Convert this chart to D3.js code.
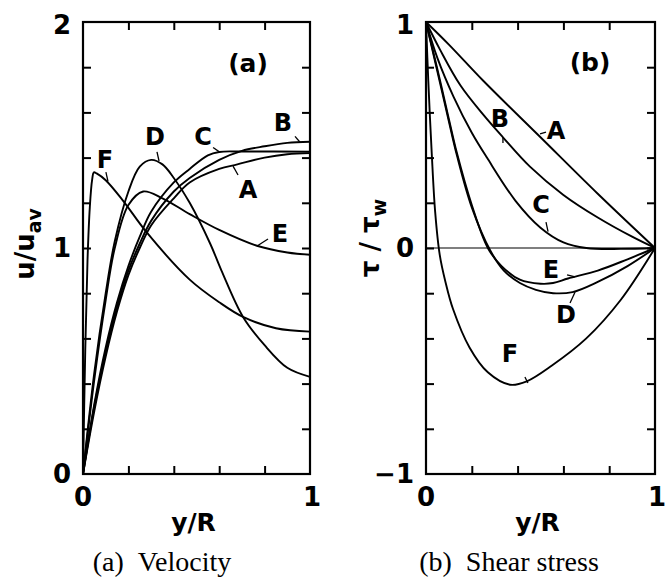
<!DOCTYPE html>
<html>
<head>
<meta charset="utf-8">
<script src="https://cdn.jsdelivr.net/npm/d3@7"></script>
<style>
  html, body { margin: 0; padding: 0; background: #fff; }
  svg { display: block; }
  .lbl { font-family: "DejaVu Sans", sans-serif; font-weight: bold; fill: #000; }
  .cap { font-family: "Liberation Serif", "Times New Roman", serif; fill: #000; }
</style>
</head>
<body>
<svg id="fig" width="666" height="583"></svg>
<script>
// Case labels shared by both panels
const cases = ["A", "B", "C", "D", "E", "F"];

// (a) velocity profiles u/u_av against y/R, as [y/R, u/u_av]
const velA = [[0,0],[0.05,0.28],[0.1,0.52],[0.15,0.72],[0.2,0.88],[0.25,1.0],[0.3,1.1],[0.4,1.22],[0.47,1.29],[0.6,1.35],[0.68,1.37],[0.8,1.40],[0.9,1.415],[1,1.42]];
const velB = [[0,0],[0.05,0.3],[0.1,0.54],[0.15,0.74],[0.2,0.9],[0.25,1.02],[0.3,1.12],[0.4,1.25],[0.47,1.31],[0.6,1.39],[0.7,1.43],[0.8,1.45],[0.9,1.465],[1,1.47]];
const velC = [[0,0],[0.05,0.31],[0.1,0.56],[0.15,0.76],[0.2,0.92],[0.25,1.05],[0.3,1.16],[0.4,1.29],[0.47,1.35],[0.55,1.41],[0.6,1.425],[0.7,1.427],[1,1.426]];
const velD = [[0,0],[0.05,0.45],[0.1,0.8],[0.14,1.03],[0.2,1.25],[0.25,1.36],[0.3,1.39],[0.35,1.37],[0.4,1.31],[0.47,1.2],[0.56,1.02],[0.61,0.9],[0.705,0.695],[0.8,0.57],[0.9,0.47],[1,0.43]];
const velE = [[0,0],[0.05,0.42],[0.1,0.77],[0.14,1.0],[0.2,1.19],[0.265,1.25],[0.35,1.22],[0.47,1.15],[0.6,1.08],[0.766,1.01],[0.9,0.98],[1,0.97]];
const velF = [[0,0],[0.01,0.55],[0.02,0.95],[0.03,1.18],[0.04,1.3],[0.048,1.335],[0.06,1.33],[0.1,1.3],[0.176,1.21],[0.28,1.07],[0.47,0.86],[0.6,0.76],[0.705,0.695],[0.85,0.645],[1,0.63]];

// (b) shear stress profiles tau/tau_w against y/R
const shrA = [[0,1],[0.1,0.9],[0.25,0.74],[0.5,0.49],[0.75,0.24],[1,0]];
const shrB = [[0,1],[0.06,0.88],[0.15,0.72],[0.25,0.59],[0.336,0.49],[0.454,0.36],[0.6,0.235],[0.75,0.135],[0.9,0.05],[1,0]];
const shrC = [[0,1],[0.05,0.84],[0.12,0.67],[0.2,0.51],[0.266,0.40],[0.39,0.21],[0.5,0.09],[0.6,0.025],[0.7,0.0],[0.85,-0.004],[1,0]];
const shrD = [[0,1],[0.05,0.78],[0.1,0.56],[0.135,0.41],[0.2,0.18],[0.28,-0.01],[0.34,-0.1],[0.41,-0.155],[0.48,-0.185],[0.555,-0.2],[0.64,-0.195],[0.75,-0.15],[0.88,-0.08],[1,0]];
const shrE = [[0,1],[0.05,0.79],[0.1,0.57],[0.135,0.42],[0.2,0.19],[0.27,0.0],[0.33,-0.08],[0.41,-0.14],[0.5,-0.158],[0.555,-0.155],[0.62,-0.135],[0.75,-0.1],[0.88,-0.05],[1,0]];
const shrF = [[0,1],[0.01,0.74],[0.025,0.42],[0.04,0.16],[0.06,-0.03],[0.085,-0.15],[0.118,-0.27],[0.19,-0.44],[0.27,-0.55],[0.367,-0.605],[0.44,-0.59],[0.55,-0.52],[0.7,-0.4],[0.85,-0.23],[1,0]];

// Tick values
const xTickVals = [0, 0.2, 0.4, 0.6, 0.8, 1];
const xTickLabels = ["0", "1"];
const velTickVals = d3.range(0, 2.0001, 0.2);
const velTickLabels = ["0", "1", "2"];
const shrTickVals = d3.range(-1, 1.0001, 0.2);
const shrTickLabels = ["\u22121", "0", "1"];

// Curve label anchors [y/R, value] and leader segments, per case
const velLabelPos = {F:[0.097,1.39], D:[0.317,1.49], C:[0.529,1.49], B:[0.881,1.553], A:[0.727,1.257], E:[0.868,1.062]};
const velLeaders = {F:[[0.101,1.336],[0.110,1.295]], D:[[0.326,1.425],[0.335,1.385]], C:[[0.573,1.445],[0.604,1.423]],
                    B:[[0.934,1.494],[0.956,1.468]], A:[[0.661,1.362],[0.683,1.323]], E:[[0.767,1.009],[0.815,1.04]]};
const shrLabelPos = {B:[0.323,0.571], A:[0.568,0.518], C:[0.502,0.19], E:[0.546,-0.097], D:[0.611,-0.296], F:[0.367,-0.469]};
const shrLeaders = {B:[[0.336,0.491],[0.336,0.465]], A:[[0.498,0.505],[0.524,0.513]], C:[[0.524,0.115],[0.533,0.072]],
                    E:[[0.616,-0.119],[0.651,-0.128]], D:[[0.629,-0.243],[0.651,-0.195]], F:[[0.432,-0.571],[0.445,-0.597]]};

const svg = d3.select("#fig");

function panel(opt) {
  const x = d3.scaleLinear().domain([0, 1]).range(opt.xr);
  const y = d3.scaleLinear().domain(opt.yd).range([474, 22]);
  const g = svg.append("g");

  // inward ticks on all four sides
  const inner = v => v > opt.yd[0] + 1e-6 && v < opt.yd[1] - 1e-6;
  const xin = xTickVals.filter(v => v > 0 && v < 1);
  const yin = opt.yTicks.filter(inner);
  g.append("g").attr("transform", `translate(0,${y.range()[0]})`)
    .call(d3.axisBottom(x).tickValues(xin).tickSize(-8).tickFormat(""));
  g.append("g").attr("transform", `translate(0,${y.range()[1]})`)
    .call(d3.axisTop(x).tickValues(xin).tickSize(-8).tickFormat(""));
  g.append("g").attr("transform", `translate(${opt.xr[0]},0)`)
    .call(d3.axisLeft(y).tickValues(yin).tickSize(-8).tickFormat(""));
  g.append("g").attr("transform", `translate(${opt.xr[1]},0)`)
    .call(d3.axisRight(y).tickValues(yin).tickSize(-8).tickFormat(""));
  g.selectAll(".domain").remove();
  g.selectAll(".tick line").attr("stroke", "#000").attr("stroke-width", 2);

  // zero reference line
  if (opt.zeroLine) {
    g.append("line").attr("x1", x(0)).attr("x2", x(1)).attr("y1", y(0)).attr("y2", y(0))
      .attr("stroke", "#000").attr("stroke-width", 1.1);
  }

  // profiles
  const line = d3.line().x(d => x(d[0])).y(d => y(d[1])).curve(d3.curveCatmullRom.alpha(0.5));
  cases.forEach(c => {
    g.append("path").datum(opt.series[c]).attr("d", line)
      .attr("fill", "none").attr("stroke", "#000").attr("stroke-width", 1.9)
      .attr("stroke-linejoin", "round");
  });

  // frame
  g.append("rect").attr("x", opt.xr[0]).attr("y", 22)
    .attr("width", opt.xr[1] - opt.xr[0]).attr("height", 452)
    .attr("fill", "none").attr("stroke", "#000").attr("stroke-width", 2.2);

  // case labels with leaders
  cases.forEach(c => {
    const p = opt.labelPos[c];
    g.append("text").attr("class", "lbl").attr("x", x(p[0])).attr("y", y(p[1]))
      .attr("text-anchor", "middle").attr("dominant-baseline", "central")
      .attr("font-size", 24).text(c);
    const L = opt.leaders[c];
    g.append("line").attr("x1", x(L[0][0])).attr("y1", y(L[0][1]))
      .attr("x2", x(L[1][0])).attr("y2", y(L[1][1]))
      .attr("stroke", "#000").attr("stroke-width", 1.3);
  });

  // y tick labels
  opt.yLabels.forEach((t, i) => {
    const v = opt.yLabelVals[i];
    g.append("text").attr("class", "lbl").attr("font-size", 26)
      .attr("x", opt.xr[0] - 12).attr("y", y(v) + (i === opt.yLabels.length - 1 ? 3 : 0))
      .attr("text-anchor", "end").attr("dominant-baseline", "central").text(t);
  });
  // x tick labels
  [0, 1].forEach((v, i) => {
    g.append("text").attr("class", "lbl").attr("font-size", 26)
      .attr("x", x(v) + (i ? 2 : 0)).attr("y", 497)
      .attr("text-anchor", "middle").attr("dominant-baseline", "central").text(xTickLabels[i]);
  });
  // x title
  g.append("text").attr("class", "lbl").attr("font-size", 25)
    .attr("x", (opt.xr[0] + opt.xr[1]) / 2 - 3).attr("y", 522)
    .attr("text-anchor", "middle").attr("dominant-baseline", "central").text("y/R");
  // panel tag
  g.append("text").attr("class", "lbl").attr("font-size", 25)
    .attr("x", opt.tag[1]).attr("y", opt.tag[2])
    .attr("text-anchor", "middle").attr("dominant-baseline", "central").text(opt.tag[0]);
  // caption
  g.append("text").attr("class", "cap").attr("font-size", 28)
    .attr("x", opt.caption[1]).attr("y", 571)
    .attr("text-anchor", "middle").text(opt.caption[0]);
  return g;
}

panel({
  xr: [83, 310], yd: [0, 2], yTicks: velTickVals,
  series: {A: velA, B: velB, C: velC, D: velD, E: velE, F: velF},
  labelPos: velLabelPos, leaders: velLeaders,
  yLabels: velTickLabels, yLabelVals: [0, 1, 2],
  tag: ["(a)", 248, 63], caption: ["(a)\u00a0\u00a0Velocity", 162]
});
panel({
  xr: [426, 655], yd: [-1, 1], yTicks: shrTickVals, zeroLine: true,
  series: {A: shrA, B: shrB, C: shrC, D: shrD, E: shrE, F: shrF},
  labelPos: shrLabelPos, leaders: shrLeaders,
  yLabels: shrTickLabels, yLabelVals: [-1, 0, 1],
  tag: ["(b)", 590, 62], caption: ["(b)\u00a0\u00a0Shear stress", 509]
});

// y titles
const ya = svg.append("text").attr("class", "lbl").attr("font-size", 26)
  .attr("transform", "translate(34,244) rotate(-90)").attr("text-anchor", "middle");
ya.append("tspan").text("u/u");
ya.append("tspan").attr("font-size", 19).attr("dy", 7).text("av");

const yb = svg.append("text").attr("class", "lbl").attr("font-size", 26)
  .attr("transform", "translate(379,238) rotate(-90)").attr("text-anchor", "middle");
yb.append("tspan").text("\u03c4 / \u03c4");
yb.append("tspan").attr("font-size", 19).attr("dy", 7).text("w");
</script>
</body>
</html>
